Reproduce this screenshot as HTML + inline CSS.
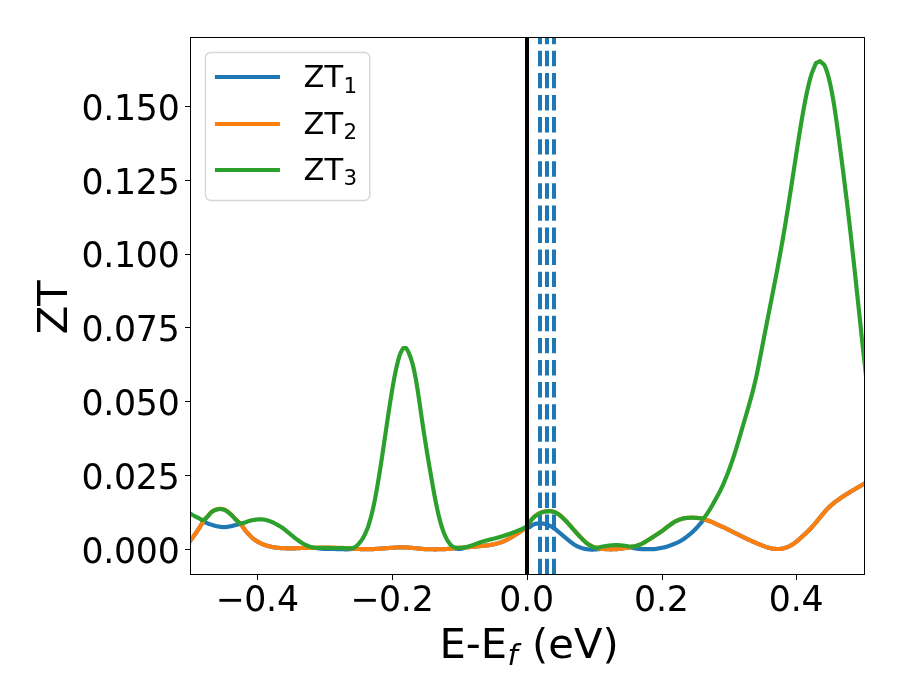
<!DOCTYPE html>
<html lang="en">
<head>
<meta charset="utf-8">
<title>ZT vs E-Ef</title>
<style>
html,body{margin:0;padding:0;background:#fff;}
body{width:900px;height:700px;overflow:hidden;}
svg{display:block;will-change:transform;}
text{font-family:"DejaVu Sans","Liberation Sans",sans-serif;fill:#000;font-kerning:none;}
.tk{font-size:34.72px;letter-spacing:-0.25px;}
.lab{font-size:41.67px;}
.leg{font-size:30.56px;}
.sub{font-size:21.39px;}
.fsub{font-size:29.17px;font-style:oblique;}
.cv{fill:none;stroke-width:4.1667;stroke-linejoin:round;stroke-linecap:butt;}
</style>
</head>
<body>
<svg width="900" height="700" viewBox="0 0 900 700">
<rect x="0" y="0" width="900" height="700" fill="#ffffff"/>
<defs><clipPath id="axclip"><rect x="190" y="37.3" width="673.9" height="536.9"/></clipPath></defs>
<g clip-path="url(#axclip)">
<line x1="540" y1="574.2" x2="540" y2="37.3" stroke="#1f77b4" stroke-width="4" stroke-dasharray="15.417 6.667"/>
<line x1="547" y1="574.2" x2="547" y2="37.3" stroke="#1f77b4" stroke-width="4" stroke-dasharray="15.417 6.667"/>
<line x1="554" y1="574.2" x2="554" y2="37.3" stroke="#1f77b4" stroke-width="4" stroke-dasharray="15.417 6.667"/>
<path class="cv" stroke="#1f77b4" d="M186.00 546.60L186.51 545.90L187.01 545.21L187.52 544.51L188.02 543.82L188.53 543.12L189.04 542.42L189.54 541.72L190.05 541.03L190.55 540.33L191.06 539.63L191.56 538.94L192.07 538.26L192.58 537.58L193.08 536.89L193.59 536.21L194.09 535.52L194.60 534.83L195.11 534.13L195.61 533.41L196.12 532.69L196.62 531.96L197.13 531.21L197.64 530.44L198.14 529.67L198.65 528.89L199.15 528.09L199.66 527.29L200.16 526.48L200.67 525.65L201.18 524.82L201.68 523.98L202.19 523.13L202.69 522.27L203.20 521.40L203.70 521.64L204.19 521.88L204.69 522.11L205.19 522.34L205.69 522.56L206.18 522.77L206.68 522.97L207.18 523.18L207.68 523.37L208.17 523.57L208.67 523.76L209.17 523.94L209.67 524.12L210.16 524.29L210.66 524.45L211.16 524.62L211.66 524.78L212.15 524.94L212.65 525.11L213.15 525.26L213.64 525.42L214.14 525.57L214.64 525.71L215.14 525.85L215.63 525.97L216.13 526.09L216.63 526.19L217.13 526.29L217.62 526.37L218.12 526.46L218.62 526.54L219.12 526.63L219.61 526.71L220.11 526.78L220.61 526.85L221.11 526.92L221.60 526.98L222.10 527.02L222.60 527.06L223.09 527.09L223.59 527.10L224.09 527.10L224.59 527.08L225.08 527.06L225.58 527.02L226.08 526.97L226.58 526.91L227.07 526.85L227.57 526.77L228.07 526.70L228.57 526.62L229.06 526.54L229.56 526.45L230.06 526.37L230.56 526.29L231.05 526.20L231.55 526.10L232.05 525.99L232.54 525.87L233.04 525.74L233.54 525.60L234.04 525.47L234.53 525.33L235.03 525.19L235.53 525.06L236.03 524.93L236.52 524.81L237.02 524.70L237.52 524.59L238.02 524.48L238.51 524.38L239.01 524.28L239.51 524.18L240.01 524.09L240.50 523.99L241.00 523.90L241.50 524.74L242.00 525.56L242.50 526.37L243.00 527.15L243.50 527.91L244.00 528.64L244.50 529.34L245.00 530.00L245.50 530.64L246.00 531.25L246.50 531.85L247.00 532.42L247.50 532.98L248.00 533.52L248.51 534.05L249.01 534.58L249.51 535.09L250.01 535.61L250.51 536.12L251.01 536.64L251.51 537.14L252.01 537.63L252.51 538.09L253.01 538.52L253.51 538.91L254.01 539.28L254.51 539.64L255.01 539.99L255.51 540.33L256.01 540.67L256.51 540.99L257.01 541.30L257.51 541.61L258.01 541.90L258.51 542.18L259.01 542.46L259.51 542.72L260.01 542.97L260.51 543.22L261.01 543.45L261.51 543.67L262.01 543.88L262.52 544.09L263.02 544.29L263.52 544.49L264.02 544.68L264.52 544.87L265.02 545.05L265.52 545.22L266.02 545.39L266.52 545.55L267.02 545.71L267.52 545.86L268.02 546.00L268.52 546.14L269.02 546.27L269.52 546.39L270.02 546.50L270.52 546.62L271.02 546.73L271.52 546.83L272.02 546.94L272.52 547.04L273.02 547.14L273.52 547.24L274.02 547.33L274.52 547.42L275.02 547.50L275.52 547.58L276.02 547.65L276.52 547.72L277.03 547.78L277.53 547.83L278.03 547.88L278.53 547.92L279.03 547.95L279.53 547.99L280.03 548.02L280.53 548.06L281.03 548.09L281.53 548.12L282.03 548.15L282.53 548.18L283.03 548.20L283.53 548.23L284.03 548.25L284.53 548.26L285.03 548.28L285.53 548.29L286.03 548.30L286.53 548.30L287.03 548.30L287.53 548.30L288.03 548.30L288.53 548.30L289.03 548.30L289.53 548.30L290.03 548.30L290.53 548.30L291.03 548.30L291.54 548.30L292.04 548.30L292.54 548.30L293.04 548.30L293.54 548.30L294.04 548.30L294.54 548.30L295.04 548.30L295.54 548.30L296.04 548.28L296.54 548.27L297.04 548.25L297.54 548.22L298.04 548.19L298.54 548.16L299.04 548.13L299.54 548.09L300.04 548.06L300.54 548.03L301.04 548.00L301.54 547.97L302.04 547.94L302.54 547.92L303.04 547.91L303.54 547.90L304.04 547.89L304.54 547.88L305.04 547.87L305.55 547.87L306.05 547.86L306.55 547.86L307.05 547.85L307.55 547.85L308.05 547.84L308.55 547.84L309.05 547.83L309.55 547.83L310.05 547.82L310.55 547.82L311.05 547.81L311.55 547.81L312.05 547.81L312.55 547.81L313.05 547.82L313.55 547.83L314.05 547.85L314.55 547.88L315.05 547.91L315.55 547.96L316.05 548.02L316.55 548.08L317.05 548.15L317.55 548.23L318.05 548.30L318.55 548.37L319.05 548.45L319.55 548.52L320.06 548.58L320.56 548.65L321.06 548.70L321.56 548.75L322.06 548.79L322.56 548.82L323.06 548.85L323.56 548.87L324.06 548.89L324.56 548.91L325.06 548.92L325.56 548.93L326.06 548.93L326.56 548.94L327.06 548.94L327.56 548.94L328.06 548.95L328.56 548.95L329.06 548.95L329.56 548.96L330.06 548.96L330.56 548.97L331.06 548.97L331.56 548.98L332.06 548.98L332.56 548.99L333.06 549.00L333.56 549.01L334.07 549.02L334.57 549.03L335.07 549.04L335.57 549.05L336.07 549.06L336.57 549.07L337.07 549.08L337.57 549.09L338.07 549.10L338.57 549.11L339.07 549.13L339.57 549.14L340.07 549.15L340.57 549.16L341.07 549.18L341.57 549.19L342.07 549.21L342.57 549.23L343.07 549.25L343.57 549.27L344.07 549.28L344.57 549.30L345.07 549.31L345.57 549.32L346.07 549.33L346.57 549.33L347.07 549.33L347.57 549.32L348.07 549.30L348.58 549.28L349.08 549.25L349.58 549.21L350.08 549.17L350.58 549.13L351.08 549.07L351.58 549.03L352.08 548.98L352.58 548.94L353.08 548.91L353.58 548.89L354.08 548.88L354.58 548.87L355.08 548.88L355.58 548.89L356.08 548.91L356.58 548.93L357.08 548.96L357.58 548.98L358.08 549.00L358.58 549.01L359.08 549.02L359.58 549.04L360.08 549.05L360.58 549.07L361.08 549.08L361.58 549.09L362.08 549.11L362.58 549.12L363.09 549.13L363.59 549.14L364.09 549.15L364.59 549.16L365.09 549.17L365.59 549.17L366.09 549.18L366.59 549.19L367.09 549.19L367.59 549.19L368.09 549.20L368.59 549.20L369.09 549.20L369.59 549.20L370.09 549.19L370.59 549.18L371.09 549.17L371.59 549.15L372.09 549.14L372.59 549.11L373.09 549.09L373.59 549.06L374.09 549.03L374.59 549.00L375.09 548.97L375.59 548.93L376.09 548.90L376.59 548.86L377.10 548.82L377.60 548.79L378.10 548.75L378.60 548.71L379.10 548.67L379.60 548.64L380.10 548.60L380.60 548.57L381.10 548.54L381.60 548.51L382.10 548.48L382.60 548.45L383.10 548.42L383.60 548.39L384.10 548.36L384.60 548.33L385.10 548.29L385.60 548.26L386.10 548.22L386.60 548.19L387.10 548.15L387.60 548.11L388.10 548.07L388.60 548.03L389.10 548.00L389.60 547.96L390.10 547.92L390.60 547.88L391.10 547.84L391.61 547.81L392.11 547.77L392.61 547.74L393.11 547.71L393.61 547.68L394.11 547.65L394.61 547.62L395.11 547.59L395.61 547.56L396.11 547.52L396.61 547.49L397.11 547.46L397.61 547.43L398.11 547.41L398.61 547.38L399.11 547.36L399.61 547.34L400.11 547.32L400.61 547.31L401.11 547.30L401.61 547.30L402.11 547.30L402.61 547.31L403.11 547.32L403.61 547.33L404.11 547.35L404.61 547.37L405.11 547.39L405.62 547.42L406.12 547.45L406.62 547.48L407.12 547.51L407.62 547.54L408.12 547.58L408.62 547.61L409.12 547.64L409.62 547.68L410.12 547.71L410.62 547.74L411.12 547.78L411.62 547.82L412.12 547.87L412.62 547.92L413.12 547.97L413.62 548.02L414.12 548.07L414.62 548.12L415.12 548.18L415.62 548.23L416.12 548.28L416.62 548.34L417.12 548.39L417.62 548.44L418.12 548.48L418.62 548.53L419.12 548.58L419.62 548.63L420.13 548.68L420.63 548.73L421.13 548.78L421.63 548.83L422.13 548.88L422.63 548.93L423.13 548.98L423.63 549.03L424.13 549.07L424.63 549.10L425.13 549.14L425.63 549.16L426.13 549.18L426.63 549.20L427.13 549.21L427.63 549.22L428.13 549.23L428.63 549.24L429.13 549.25L429.63 549.25L430.13 549.26L430.63 549.27L431.13 549.28L431.63 549.28L432.13 549.29L432.63 549.29L433.13 549.29L433.63 549.30L434.13 549.30L434.64 549.30L435.14 549.30L435.64 549.30L436.14 549.30L436.64 549.30L437.14 549.29L437.64 549.29L438.14 549.28L438.64 549.28L439.14 549.27L439.64 549.27L440.14 549.26L440.64 549.25L441.14 549.24L441.64 549.23L442.14 549.22L442.64 549.21L443.14 549.20L443.64 549.19L444.14 549.17L444.64 549.15L445.14 549.12L445.64 549.08L446.14 549.04L446.64 549.00L447.14 548.96L447.64 548.91L448.14 548.86L448.65 548.81L449.15 548.76L449.65 548.71L450.15 548.66L450.65 548.62L451.15 548.58L451.65 548.55L452.15 548.52L452.65 548.50L453.15 548.49L453.65 548.49L454.15 548.50L454.65 548.53L455.15 548.57L455.65 548.62L456.15 548.69L456.65 548.76L457.15 548.83L457.65 548.90L458.15 548.96L458.65 549.00L459.15 549.03L459.65 549.02L460.15 548.99L460.65 548.92L461.15 548.83L461.65 548.71L462.15 548.57L462.65 548.42L463.16 548.27L463.66 548.11L464.16 547.96L464.66 547.82L465.16 547.69L465.66 547.58L466.16 547.48L466.66 547.40L467.16 547.32L467.66 547.26L468.16 547.20L468.66 547.15L469.16 547.11L469.66 547.07L470.16 547.03L470.66 546.99L471.16 546.95L471.66 546.90L472.16 546.86L472.66 546.82L473.16 546.77L473.66 546.73L474.16 546.68L474.66 546.63L475.16 546.58L475.66 546.53L476.16 546.48L476.66 546.43L477.17 546.38L477.67 546.33L478.17 546.28L478.67 546.23L479.17 546.18L479.67 546.13L480.17 546.08L480.67 546.04L481.17 545.99L481.67 545.95L482.17 545.91L482.67 545.86L483.17 545.82L483.67 545.78L484.17 545.73L484.67 545.69L485.17 545.64L485.67 545.60L486.17 545.55L486.67 545.49L487.17 545.44L487.67 545.38L488.17 545.32L488.67 545.25L489.17 545.18L489.67 545.10L490.17 545.02L490.67 544.93L491.17 544.84L491.68 544.75L492.18 544.65L492.68 544.55L493.18 544.44L493.68 544.33L494.18 544.22L494.68 544.10L495.18 543.98L495.68 543.86L496.18 543.73L496.68 543.61L497.18 543.47L497.68 543.34L498.18 543.19L498.68 543.04L499.18 542.89L499.68 542.73L500.18 542.56L500.68 542.39L501.18 542.21L501.68 542.03L502.18 541.84L502.68 541.65L503.18 541.45L503.68 541.25L504.18 541.04L504.68 540.83L505.18 540.62L505.68 540.39L506.19 540.16L506.69 539.91L507.19 539.65L507.69 539.39L508.19 539.12L508.69 538.84L509.19 538.55L509.69 538.26L510.19 537.97L510.69 537.67L511.19 537.37L511.69 537.07L512.19 536.77L512.69 536.46L513.19 536.17L513.69 535.87L514.19 535.57L514.69 535.26L515.19 534.96L515.69 534.65L516.19 534.34L516.69 534.03L517.19 533.71L517.69 533.39L518.19 533.07L518.69 532.74L519.19 532.41L519.69 532.08L520.20 531.74L520.70 531.40L521.20 531.05L521.70 530.70L522.20 530.35L522.70 529.99L523.20 529.62L523.70 529.25L524.00 528.90L524.50 528.83L525.00 528.74L525.50 528.62L526.00 528.49L526.50 528.34L527.00 528.17L527.50 527.99L528.00 527.79L528.50 527.59L529.00 527.38L529.50 527.16L530.00 526.86L530.50 526.51L531.00 526.12L531.50 525.73L532.00 525.35L532.50 525.01L533.00 524.73L533.50 524.52L534.00 524.34L534.50 524.15L535.00 523.98L535.50 523.82L536.00 523.69L536.50 523.59L537.00 523.52L537.50 523.50L538.00 523.50L538.50 523.50L539.00 523.50L539.50 523.50L540.00 523.50L540.50 523.50L541.00 523.50L541.50 523.50L542.00 523.51L542.50 523.54L543.00 523.60L543.50 523.68L544.00 523.78L544.50 523.89L545.00 524.01L545.50 524.13L546.00 524.25L546.50 524.39L547.00 524.55L547.50 524.73L548.00 524.92L548.50 525.13L549.00 525.34L549.50 525.57L550.00 525.80L550.50 526.04L551.00 526.30L551.50 526.58L552.00 526.87L552.50 527.18L553.00 527.49L553.50 527.82L554.00 528.16L554.50 528.51L555.00 528.89L555.50 529.30L556.00 529.71L556.50 530.15L557.00 530.58L557.50 531.02L558.00 531.45L558.50 531.87L559.00 532.28L559.50 532.70L560.00 533.11L560.50 533.53L561.00 533.95L561.50 534.36L562.00 534.78L562.50 535.20L563.00 535.62L563.50 536.04L564.00 536.47L564.50 536.89L565.00 537.32L565.50 537.74L566.00 538.16L566.50 538.58L567.00 539.00L567.50 539.42L568.00 539.84L568.50 540.26L569.00 540.67L569.50 541.08L570.00 541.48L570.50 541.87L571.00 542.25L571.50 542.62L572.00 542.99L572.50 543.35L573.00 543.71L573.50 544.05L574.00 544.38L574.50 544.70L575.00 545.00L575.50 545.29L576.00 545.56L576.50 545.83L577.00 546.09L577.50 546.34L578.00 546.58L578.50 546.80L579.00 547.02L579.50 547.22L580.00 547.42L580.50 547.61L581.00 547.79L581.50 547.97L582.00 548.13L582.50 548.28L583.00 548.42L583.50 548.55L584.00 548.67L584.50 548.78L585.00 548.89L585.50 548.99L586.00 549.09L586.50 549.17L587.00 549.24L587.50 549.30L588.00 549.35L588.50 549.40L589.00 549.45L589.50 549.50L590.00 549.53L590.50 549.57L591.00 549.59L591.50 549.60L592.00 549.60L592.50 549.59L593.00 549.57L593.50 549.55L594.00 549.52L594.50 549.49L595.00 549.45L595.50 549.42L596.00 549.39L596.50 549.35L597.00 549.31L597.50 549.27L598.00 549.22L598.50 549.17L599.00 549.11L599.50 549.06L600.00 549.00L600.02 548.64L600.52 548.71L601.02 548.76L601.53 548.82L602.03 548.86L602.53 548.90L603.03 548.94L603.54 548.97L604.04 549.01L604.54 549.04L605.05 549.08L605.55 549.11L606.05 549.14L606.56 549.17L607.06 549.20L607.56 549.22L608.06 549.24L608.57 549.26L609.07 549.28L609.57 549.29L610.08 549.30L610.58 549.30L611.08 549.30L611.58 549.30L612.09 549.29L612.59 549.28L613.09 549.27L613.60 549.25L614.10 549.23L614.60 549.21L615.10 549.19L615.61 549.17L616.11 549.14L616.61 549.12L617.12 549.09L617.62 549.06L618.12 549.02L618.62 548.96L619.13 548.90L619.63 548.84L620.13 548.77L620.64 548.69L621.14 548.62L621.64 548.54L622.14 548.47L622.65 548.39L623.15 548.32L623.65 548.25L624.16 548.18L624.66 548.12L625.16 548.05L625.67 547.98L626.17 547.91L626.67 547.84L627.17 547.77L627.68 547.69L628.18 547.62L628.68 547.55L629.19 547.48L629.69 547.40L630.19 547.33L630.69 547.25L631.20 547.18L631.70 547.60L632.20 547.73L632.70 547.86L633.20 547.99L633.70 548.11L634.20 548.22L634.70 548.32L635.20 548.41L635.71 548.49L636.21 548.55L636.71 548.61L637.21 548.68L637.71 548.74L638.21 548.80L638.71 548.85L639.21 548.91L639.71 548.96L640.21 549.00L640.71 549.05L641.21 549.08L641.71 549.12L642.21 549.15L642.72 549.17L643.22 549.19L643.72 549.20L644.22 549.20L644.72 549.20L645.22 549.20L645.72 549.20L646.22 549.20L646.72 549.20L647.22 549.20L647.72 549.20L648.22 549.20L648.72 549.20L649.22 549.20L649.73 549.20L650.23 549.20L650.73 549.20L651.23 549.20L651.73 549.20L652.23 549.20L652.73 549.20L653.23 549.18L653.73 549.15L654.23 549.11L654.73 549.06L655.23 549.00L655.73 548.92L656.23 548.84L656.73 548.76L657.24 548.67L657.74 548.57L658.24 548.48L658.74 548.38L659.24 548.28L659.74 548.19L660.24 548.10L660.74 548.01L661.24 547.93L661.74 547.84L662.24 547.76L662.74 547.67L663.24 547.57L663.74 547.48L664.25 547.37L664.75 547.26L665.25 547.14L665.75 547.01L666.25 546.87L666.75 546.72L667.25 546.56L667.75 546.39L668.25 546.22L668.75 546.04L669.25 545.86L669.75 545.67L670.25 545.48L670.75 545.29L671.26 545.09L671.76 544.89L672.26 544.70L672.76 544.50L673.26 544.30L673.76 544.10L674.26 543.89L674.76 543.69L675.26 543.48L675.76 543.26L676.26 543.04L676.76 542.82L677.26 542.59L677.76 542.36L678.27 542.12L678.77 541.87L679.27 541.62L679.77 541.36L680.27 541.09L680.77 540.82L681.27 540.53L681.77 540.23L682.27 539.92L682.77 539.60L683.27 539.27L683.77 538.93L684.27 538.58L684.77 538.22L685.27 537.85L685.78 537.48L686.28 537.10L686.78 536.71L687.28 536.32L687.78 535.93L688.28 535.53L688.78 535.14L689.28 534.74L689.78 534.33L690.28 533.92L690.78 533.49L691.28 533.06L691.78 532.62L692.28 532.18L692.79 531.72L693.29 531.26L693.79 530.78L694.29 530.30L694.79 529.81L695.29 529.31L695.79 528.79L696.29 528.25L696.79 527.70L697.29 527.14L697.79 526.57L698.29 525.99L698.79 525.41L699.29 524.83L699.80 524.24L700.30 523.65L700.80 523.06L701.30 522.46L701.80 521.85L702.30 521.24L702.80 520.62L703.30 520.00L703.80 519.32L704.30 519.45L704.80 519.59L705.30 519.72L705.80 519.87L706.30 520.02L706.80 520.17L707.30 520.33L707.81 520.49L708.31 520.66L708.81 520.83L709.31 521.00L709.81 521.18L710.31 521.36L710.81 521.56L711.31 521.76L711.81 521.97L712.31 522.19L712.81 522.41L713.31 522.64L713.81 522.88L714.31 523.11L714.81 523.35L715.31 523.59L715.82 523.83L716.32 524.07L716.82 524.31L717.32 524.55L717.82 524.78L718.32 525.01L718.82 525.23L719.32 525.45L719.82 525.67L720.32 525.89L720.82 526.11L721.32 526.33L721.82 526.55L722.32 526.77L722.82 526.99L723.32 527.21L723.82 527.43L724.33 527.66L724.83 527.88L725.33 528.11L725.83 528.34L726.33 528.57L726.83 528.81L727.33 529.05L727.83 529.30L728.33 529.55L728.83 529.81L729.33 530.06L729.83 530.32L730.33 530.57L730.83 530.82L731.33 531.07L731.83 531.33L732.34 531.58L732.84 531.83L733.34 532.09L733.84 532.34L734.34 532.60L734.84 532.85L735.34 533.11L735.84 533.36L736.34 533.61L736.84 533.87L737.34 534.12L737.84 534.37L738.34 534.62L738.84 534.87L739.34 535.12L739.84 535.37L740.34 535.63L740.85 535.88L741.35 536.13L741.85 536.38L742.35 536.63L742.85 536.88L743.35 537.13L743.85 537.37L744.35 537.62L744.85 537.86L745.35 538.11L745.85 538.35L746.35 538.59L746.85 538.82L747.35 539.06L747.85 539.29L748.35 539.52L748.86 539.76L749.36 539.99L749.86 540.21L750.36 540.44L750.86 540.67L751.36 540.89L751.86 541.12L752.36 541.34L752.86 541.56L753.36 541.78L753.86 542.00L754.36 542.22L754.86 542.44L755.36 542.66L755.86 542.87L756.36 543.09L756.87 543.31L757.37 543.52L757.87 543.73L758.37 543.94L758.87 544.15L759.37 544.36L759.87 544.57L760.37 544.77L760.87 544.97L761.37 545.17L761.87 545.37L762.37 545.57L762.87 545.77L763.37 545.97L763.87 546.17L764.37 546.38L764.87 546.57L765.38 546.77L765.88 546.95L766.38 547.13L766.88 547.30L767.38 547.45L767.88 547.59L768.38 547.72L768.88 547.84L769.38 547.96L769.88 548.08L770.38 548.19L770.88 548.30L771.38 548.41L771.88 548.51L772.38 548.60L772.88 548.68L773.39 548.75L773.89 548.81L774.39 548.86L774.89 548.89L775.39 548.92L775.89 548.94L776.39 548.96L776.89 548.98L777.39 548.99L777.89 549.00L778.39 549.00L778.89 548.99L779.39 548.96L779.89 548.92L780.39 548.86L780.89 548.80L781.39 548.74L781.90 548.67L782.40 548.59L782.90 548.49L783.40 548.38L783.90 548.25L784.40 548.11L784.90 547.96L785.40 547.79L785.90 547.62L786.40 547.44L786.90 547.25L787.40 547.06L787.90 546.86L788.40 546.66L788.90 546.44L789.40 546.21L789.91 545.95L790.41 545.68L790.91 545.40L791.41 545.10L791.91 544.79L792.41 544.47L792.91 544.14L793.41 543.80L793.91 543.46L794.41 543.11L794.91 542.76L795.41 542.40L795.91 542.03L796.41 541.64L796.91 541.23L797.41 540.81L797.91 540.38L798.42 539.95L798.92 539.50L799.42 539.05L799.92 538.60L800.42 538.15L800.92 537.70L801.42 537.25L801.92 536.81L802.42 536.36L802.92 535.92L803.42 535.47L803.92 535.02L804.42 534.57L804.92 534.11L805.42 533.65L805.92 533.19L806.43 532.72L806.93 532.24L807.43 531.76L807.93 531.27L808.43 530.77L808.93 530.27L809.43 529.75L809.93 529.23L810.43 528.70L810.93 528.16L811.43 527.62L811.93 527.07L812.43 526.51L812.93 525.95L813.43 525.39L813.93 524.82L814.43 524.25L814.94 523.67L815.44 523.09L815.94 522.50L816.44 521.89L816.94 521.28L817.44 520.66L817.94 520.04L818.44 519.41L818.94 518.79L819.44 518.16L819.94 517.55L820.44 516.93L820.94 516.33L821.44 515.73L821.94 515.13L822.44 514.53L822.95 513.93L823.45 513.32L823.95 512.72L824.45 512.12L824.95 511.53L825.45 510.95L825.95 510.38L826.45 509.82L826.95 509.28L827.45 508.75L827.95 508.25L828.45 507.76L828.95 507.28L829.45 506.81L829.95 506.36L830.45 505.91L830.96 505.47L831.46 505.04L831.96 504.62L832.46 504.21L832.96 503.80L833.46 503.39L833.96 502.99L834.46 502.59L834.96 502.20L835.46 501.81L835.96 501.42L836.46 501.04L836.96 500.67L837.46 500.30L837.96 499.94L838.46 499.58L838.96 499.22L839.47 498.87L839.97 498.52L840.47 498.17L840.97 497.83L841.47 497.49L841.97 497.15L842.47 496.81L842.97 496.48L843.47 496.16L843.97 495.83L844.47 495.51L844.97 495.19L845.47 494.88L845.97 494.56L846.47 494.25L846.97 493.94L847.48 493.63L847.98 493.32L848.48 493.01L848.98 492.70L849.48 492.40L849.98 492.10L850.48 491.80L850.98 491.50L851.48 491.20L851.98 490.91L852.48 490.61L852.98 490.32L853.48 490.02L853.98 489.72L854.48 489.43L854.98 489.13L855.48 488.83L855.99 488.53L856.49 488.23L856.99 487.93L857.49 487.63L857.99 487.33L858.49 487.04L858.99 486.74L859.49 486.45L859.99 486.15L860.49 485.86L860.99 485.58L861.49 485.29L861.99 485.01L862.49 484.74L862.99 484.47L863.49 484.20L864.00 483.93L864.50 483.65L865.00 483.36L865.50 483.07L866.00 482.78L866.50 482.49L867.00 482.20L867.50 481.90L868.00 481.60"/>
<path class="cv" stroke="#ff7f0e" d="M186.00 546.60L186.51 545.90L187.01 545.21L187.52 544.51L188.02 543.82L188.53 543.12L189.04 542.42L189.54 541.72L190.05 541.03L190.55 540.33L191.06 539.63L191.56 538.94L192.07 538.26L192.58 537.58L193.08 536.89L193.59 536.21L194.09 535.52L194.60 534.83L195.11 534.13L195.61 533.41L196.12 532.69L196.62 531.96L197.13 531.21L197.64 530.44L198.14 529.67L198.65 528.89L199.15 528.09L199.66 527.29L200.16 526.48L200.67 525.65L201.18 524.82L201.68 523.98L202.19 523.13L202.69 522.27L203.20 521.40L203.63 519.65L204.12 519.65L204.60 519.65L205.10 519.10L205.59 518.55L206.09 518.00L206.59 517.45L207.09 516.90L207.58 516.34L208.08 515.78L208.58 515.21L209.07 514.61L209.57 514.00L210.07 513.40L210.57 512.85L211.06 512.35L211.56 511.94L212.06 511.56L212.55 511.20L213.05 510.87L213.55 510.57L214.05 510.30L214.54 510.07L215.04 509.88L215.54 509.70L216.03 509.54L216.53 509.40L217.03 509.27L217.53 509.16L218.02 509.07L218.52 508.97L219.02 508.89L219.51 508.82L220.01 508.77L220.51 508.75L221.01 508.77L221.50 508.84L222.00 508.93L222.50 509.05L222.99 509.18L223.49 509.32L223.99 509.47L224.49 509.67L224.98 509.90L225.48 510.16L225.98 510.44L226.47 510.73L226.97 511.05L227.47 511.39L227.97 511.77L228.46 512.16L228.96 512.58L229.46 513.01L229.95 513.44L230.45 513.89L230.95 514.34L231.45 514.82L231.94 515.32L232.44 515.83L232.94 516.35L233.43 516.88L233.93 517.40L234.43 517.93L234.93 518.46L235.42 518.97L235.92 519.48L236.42 519.99L236.91 520.50L237.41 521.01L237.91 521.52L238.41 522.03L238.90 522.54L239.40 523.05L239.90 523.05L240.40 523.05L240.90 523.05L241.00 523.90L241.50 524.74L242.00 525.56L242.50 526.37L243.00 527.15L243.50 527.91L244.00 528.64L244.50 529.34L245.00 530.00L245.50 530.64L246.00 531.25L246.50 531.85L247.00 532.42L247.50 532.98L248.00 533.52L248.51 534.05L249.01 534.58L249.51 535.09L250.01 535.61L250.51 536.12L251.01 536.64L251.51 537.14L252.01 537.63L252.51 538.09L253.01 538.52L253.51 538.91L254.01 539.28L254.51 539.64L255.01 539.99L255.51 540.33L256.01 540.67L256.51 540.99L257.01 541.30L257.51 541.61L258.01 541.90L258.51 542.18L259.01 542.46L259.51 542.72L260.01 542.97L260.51 543.22L261.01 543.45L261.51 543.67L262.01 543.88L262.52 544.09L263.02 544.29L263.52 544.49L264.02 544.68L264.52 544.87L265.02 545.05L265.52 545.22L266.02 545.39L266.52 545.55L267.02 545.71L267.52 545.86L268.02 546.00L268.52 546.14L269.02 546.27L269.52 546.39L270.02 546.50L270.52 546.62L271.02 546.73L271.52 546.83L272.02 546.94L272.52 547.04L273.02 547.14L273.52 547.24L274.02 547.33L274.52 547.42L275.02 547.50L275.52 547.58L276.02 547.65L276.52 547.72L277.03 547.78L277.53 547.83L278.03 547.88L278.53 547.92L279.03 547.95L279.53 547.99L280.03 548.02L280.53 548.06L281.03 548.09L281.53 548.12L282.03 548.15L282.53 548.18L283.03 548.20L283.53 548.23L284.03 548.25L284.53 548.26L285.03 548.28L285.53 548.29L286.03 548.30L286.53 548.30L287.03 548.30L287.53 548.30L288.03 548.30L288.53 548.30L289.03 548.30L289.53 548.30L290.03 548.30L290.53 548.30L291.03 548.30L291.54 548.30L292.04 548.30L292.54 548.30L293.04 548.30L293.54 548.30L294.04 548.30L294.54 548.30L295.04 548.30L295.54 548.30L296.04 548.28L296.54 548.27L297.04 548.25L297.54 548.22L298.04 548.19L298.54 548.16L299.04 548.13L299.54 548.09L300.04 548.06L300.54 548.03L301.04 548.00L301.54 547.97L302.04 547.94L302.54 547.92L303.04 547.91L303.54 547.90L304.04 547.89L304.54 547.88L305.04 547.87L305.55 547.87L306.05 547.86L306.55 547.86L307.05 547.85L307.55 547.85L308.05 547.84L308.55 547.84L309.05 547.83L309.55 547.83L310.05 547.82L310.55 547.82L311.05 547.81L311.55 547.80L312.05 547.79L312.55 547.78L313.05 547.77L313.55 547.76L314.05 547.74L314.55 547.73L315.05 547.71L315.55 547.69L316.05 547.68L316.55 547.66L317.05 547.65L317.55 547.63L318.05 547.62L318.55 547.61L319.05 547.61L319.55 547.60L320.06 547.60L320.56 547.60L321.06 547.60L321.56 547.60L322.06 547.60L322.56 547.60L323.06 547.60L323.56 547.60L324.06 547.60L324.56 547.60L325.06 547.60L325.56 547.60L326.06 547.60L326.56 547.60L327.06 547.60L327.56 547.60L328.06 547.60L328.56 547.60L329.06 547.60L329.56 547.61L330.06 547.61L330.56 547.62L331.06 547.62L331.56 547.63L332.06 547.63L332.56 547.64L333.06 547.65L333.56 547.66L334.07 547.67L334.57 547.68L335.07 547.69L335.57 547.70L336.07 547.71L336.57 547.72L337.07 547.73L337.57 547.74L338.07 547.75L338.57 547.76L339.07 547.78L339.57 547.79L340.07 547.80L340.57 547.82L341.07 547.83L341.57 547.85L342.07 547.87L342.57 547.89L343.07 547.92L343.57 547.94L344.07 547.97L344.57 548.00L345.07 548.02L345.57 548.06L346.07 548.09L346.57 548.12L347.07 548.15L347.57 548.18L348.07 548.22L348.58 548.25L349.08 548.28L349.58 548.32L350.08 548.35L350.58 548.39L351.08 548.42L351.58 548.46L352.08 548.50L352.58 548.54L353.08 548.59L353.58 548.64L354.08 548.69L354.58 548.74L355.08 548.78L355.58 548.83L356.08 548.87L356.58 548.91L357.08 548.94L357.58 548.97L358.08 548.99L358.58 549.01L359.08 549.02L359.58 549.04L360.08 549.05L360.58 549.07L361.08 549.08L361.58 549.09L362.08 549.11L362.58 549.12L363.09 549.13L363.59 549.14L364.09 549.15L364.59 549.16L365.09 549.17L365.59 549.17L366.09 549.18L366.59 549.19L367.09 549.19L367.59 549.19L368.09 549.20L368.59 549.20L369.09 549.20L369.59 549.20L370.09 549.19L370.59 549.18L371.09 549.17L371.59 549.15L372.09 549.14L372.59 549.11L373.09 549.09L373.59 549.06L374.09 549.03L374.59 549.00L375.09 548.97L375.59 548.93L376.09 548.90L376.59 548.86L377.10 548.82L377.60 548.79L378.10 548.75L378.60 548.71L379.10 548.67L379.60 548.64L380.10 548.60L380.60 548.57L381.10 548.54L381.60 548.51L382.10 548.48L382.60 548.45L383.10 548.42L383.60 548.39L384.10 548.36L384.60 548.33L385.10 548.29L385.60 548.26L386.10 548.22L386.60 548.19L387.10 548.15L387.60 548.11L388.10 548.07L388.60 548.03L389.10 548.00L389.60 547.96L390.10 547.92L390.60 547.88L391.10 547.84L391.61 547.81L392.11 547.77L392.61 547.74L393.11 547.71L393.61 547.68L394.11 547.65L394.61 547.62L395.11 547.59L395.61 547.56L396.11 547.52L396.61 547.49L397.11 547.46L397.61 547.43L398.11 547.41L398.61 547.38L399.11 547.36L399.61 547.34L400.11 547.32L400.61 547.31L401.11 547.30L401.61 547.30L402.11 547.30L402.61 547.31L403.11 547.32L403.61 547.33L404.11 547.35L404.61 547.37L405.11 547.39L405.62 547.42L406.12 547.45L406.62 547.48L407.12 547.51L407.62 547.54L408.12 547.58L408.62 547.61L409.12 547.64L409.62 547.68L410.12 547.71L410.62 547.74L411.12 547.78L411.62 547.82L412.12 547.87L412.62 547.92L413.12 547.97L413.62 548.02L414.12 548.07L414.62 548.12L415.12 548.18L415.62 548.23L416.12 548.28L416.62 548.34L417.12 548.39L417.62 548.44L418.12 548.48L418.62 548.53L419.12 548.58L419.62 548.63L420.13 548.68L420.63 548.73L421.13 548.78L421.63 548.83L422.13 548.88L422.63 548.93L423.13 548.98L423.63 549.03L424.13 549.07L424.63 549.10L425.13 549.14L425.63 549.16L426.13 549.18L426.63 549.20L427.13 549.21L427.63 549.22L428.13 549.23L428.63 549.24L429.13 549.25L429.63 549.25L430.13 549.26L430.63 549.27L431.13 549.28L431.63 549.28L432.13 549.29L432.63 549.29L433.13 549.29L433.63 549.30L434.13 549.30L434.64 549.30L435.14 549.30L435.64 549.30L436.14 549.30L436.64 549.30L437.14 549.29L437.64 549.29L438.14 549.28L438.64 549.28L439.14 549.27L439.64 549.27L440.14 549.26L440.64 549.25L441.14 549.24L441.64 549.23L442.14 549.22L442.64 549.21L443.14 549.20L443.64 549.19L444.14 549.17L444.64 549.15L445.14 549.12L445.64 549.08L446.14 549.04L446.64 549.00L447.14 548.96L447.64 548.91L448.14 548.86L448.65 548.81L449.15 548.75L449.65 548.70L450.15 548.65L450.65 548.60L451.15 548.55L451.65 548.50L452.15 548.46L452.65 548.41L453.15 548.36L453.65 548.31L454.15 548.26L454.65 548.21L455.15 548.16L455.65 548.11L456.15 548.06L456.65 548.01L457.15 547.96L457.65 547.91L458.15 547.86L458.65 547.82L459.15 547.77L459.65 547.73L460.15 547.69L460.65 547.65L461.15 547.61L461.65 547.57L462.15 547.54L462.65 547.50L463.16 547.47L463.66 547.44L464.16 547.41L464.66 547.37L465.16 547.34L465.66 547.31L466.16 547.28L466.66 547.25L467.16 547.22L467.66 547.19L468.16 547.15L468.66 547.12L469.16 547.09L469.66 547.05L470.16 547.02L470.66 546.98L471.16 546.94L471.66 546.90L472.16 546.86L472.66 546.82L473.16 546.77L473.66 546.73L474.16 546.68L474.66 546.63L475.16 546.58L475.66 546.53L476.16 546.48L476.66 546.43L477.17 546.38L477.67 546.33L478.17 546.28L478.67 546.23L479.17 546.18L479.67 546.13L480.17 546.08L480.67 546.04L481.17 545.99L481.67 545.95L482.17 545.91L482.67 545.86L483.17 545.82L483.67 545.78L484.17 545.73L484.67 545.69L485.17 545.64L485.67 545.60L486.17 545.55L486.67 545.49L487.17 545.44L487.67 545.38L488.17 545.32L488.67 545.25L489.17 545.18L489.67 545.10L490.17 545.02L490.67 544.93L491.17 544.84L491.68 544.75L492.18 544.65L492.68 544.55L493.18 544.44L493.68 544.33L494.18 544.22L494.68 544.10L495.18 543.98L495.68 543.86L496.18 543.73L496.68 543.61L497.18 543.47L497.68 543.34L498.18 543.19L498.68 543.04L499.18 542.89L499.68 542.73L500.18 542.56L500.68 542.39L501.18 542.21L501.68 542.03L502.18 541.84L502.68 541.65L503.18 541.45L503.68 541.25L504.18 541.04L504.68 540.83L505.18 540.62L505.68 540.39L506.19 540.16L506.69 539.91L507.19 539.65L507.69 539.39L508.19 539.12L508.69 538.84L509.19 538.55L509.69 538.26L510.19 537.97L510.69 537.67L511.19 537.37L511.69 537.07L512.19 536.77L512.69 536.46L513.19 536.17L513.69 535.87L514.19 535.57L514.69 535.26L515.19 534.96L515.69 534.65L516.19 534.34L516.69 534.03L517.19 533.71L517.69 533.39L518.19 533.07L518.69 532.74L519.19 532.41L519.69 532.08L520.20 531.74L520.70 531.40L521.20 531.05L521.70 530.70L522.20 530.35L522.70 529.99L523.20 529.62L523.70 529.25L524.20 528.86L524.70 528.45L525.20 528.03L525.70 527.58L526.20 527.10L526.70 526.61L527.20 526.10L527.70 525.01L528.20 524.19L528.70 523.39L529.19 522.66L529.69 521.96L530.19 521.29L530.69 520.63L531.19 520.00L531.69 519.39L532.19 518.81L532.68 518.27L533.18 517.76L533.68 517.29L534.18 516.84L534.68 516.41L535.18 516.00L535.68 515.60L536.17 515.23L536.67 514.88L537.17 514.56L537.67 514.25L538.17 513.95L538.67 513.66L539.17 513.38L539.66 513.12L540.16 512.87L540.66 512.65L541.16 512.44L541.66 512.26L542.16 512.10L542.66 511.94L543.15 511.80L543.65 511.66L544.15 511.53L544.65 511.42L545.15 511.33L545.65 511.27L546.15 511.22L546.64 511.17L547.14 511.13L547.64 511.09L548.14 511.06L548.64 511.03L549.14 511.01L549.64 511.00L550.13 511.00L550.63 511.03L551.13 511.09L551.63 511.17L552.13 511.28L552.63 511.40L553.13 511.54L553.62 511.68L554.12 511.83L554.62 511.99L555.12 512.18L555.62 512.40L556.12 512.65L556.62 512.93L557.11 513.22L557.61 513.52L558.11 513.83L558.61 514.15L559.11 514.51L559.61 514.90L560.11 515.31L560.60 515.74L561.10 516.18L561.60 516.63L562.10 517.09L562.60 517.54L563.10 518.00L563.60 518.47L564.09 518.95L564.59 519.44L565.09 519.94L565.59 520.44L566.09 520.96L566.59 521.48L567.09 522.01L567.58 522.56L568.08 523.12L568.58 523.69L569.08 524.26L569.58 524.84L570.08 525.42L570.58 525.99L571.07 526.56L571.57 527.13L572.07 527.71L572.57 528.28L573.07 528.85L573.57 529.43L574.07 530.00L574.56 530.56L575.06 531.12L575.56 531.68L576.06 532.23L576.56 532.78L577.06 533.33L577.56 533.88L578.05 534.42L578.55 534.96L579.05 535.49L579.55 536.02L580.05 536.56L580.55 537.09L581.05 537.62L581.54 538.14L582.04 538.66L582.54 539.16L583.04 539.65L583.54 540.13L584.04 540.59L584.54 541.06L585.03 541.51L585.53 541.96L586.03 542.39L586.53 542.80L587.03 543.20L587.53 543.57L588.03 543.92L588.52 544.26L589.02 544.58L589.52 544.88L590.02 545.16L590.52 545.44L591.02 545.71L591.52 545.97L592.01 546.21L592.51 546.44L593.01 546.64L593.51 546.82L594.01 546.99L594.51 547.15L595.01 547.30L595.50 547.43L596.00 547.56L596.50 547.66L597.00 548.20L597.50 548.28L598.01 548.36L598.51 548.43L599.01 548.51L599.51 548.58L600.02 548.64L600.52 548.71L601.02 548.76L601.53 548.82L602.03 548.86L602.53 548.90L603.03 548.94L603.54 548.97L604.04 549.01L604.54 549.04L605.05 549.08L605.55 549.11L606.05 549.14L606.56 549.17L607.06 549.20L607.56 549.22L608.06 549.24L608.57 549.26L609.07 549.28L609.57 549.29L610.08 549.30L610.58 549.30L611.08 549.30L611.58 549.30L612.09 549.29L612.59 549.28L613.09 549.27L613.60 549.25L614.10 549.23L614.60 549.21L615.10 549.19L615.61 549.17L616.11 549.14L616.61 549.12L617.12 549.09L617.62 549.06L618.12 549.02L618.62 548.96L619.13 548.90L619.63 548.84L620.13 548.77L620.64 548.69L621.14 548.62L621.64 548.54L622.14 548.47L622.65 548.39L623.15 548.32L623.65 548.25L624.16 548.18L624.66 548.12L625.16 548.05L625.67 547.98L626.17 547.91L626.67 547.84L627.17 547.77L627.68 547.69L628.18 547.62L628.68 547.55L629.19 547.48L629.69 547.40L630.19 547.33L630.69 547.25L631.20 547.18L631.70 547.10L631.93 546.60L632.43 546.57L632.93 546.53L633.43 546.46L633.93 546.38L634.43 546.28L634.93 546.16L635.43 546.03L635.93 545.89L636.43 545.74L636.92 545.57L637.42 545.41L637.92 545.23L638.42 545.06L638.92 544.88L639.42 544.70L639.92 544.53L640.42 544.35L640.92 544.15L641.42 543.92L641.92 543.69L642.41 543.43L642.91 543.17L643.41 542.89L643.91 542.60L644.41 542.30L644.91 542.00L645.41 541.69L645.91 541.38L646.41 541.06L646.91 540.75L647.41 540.44L647.90 540.14L648.40 539.84L648.90 539.54L649.40 539.23L649.90 538.92L650.40 538.61L650.90 538.30L651.40 537.98L651.90 537.66L652.40 537.33L652.89 537.01L653.39 536.68L653.89 536.35L654.39 536.02L654.89 535.69L655.39 535.36L655.89 535.03L656.39 534.71L656.89 534.38L657.39 534.05L657.89 533.72L658.38 533.39L658.88 533.07L659.38 532.74L659.88 532.40L660.38 532.07L660.88 531.73L661.38 531.39L661.88 531.04L662.38 530.69L662.88 530.33L663.38 529.95L663.87 529.57L664.37 529.18L664.87 528.79L665.37 528.39L665.87 527.99L666.37 527.60L666.87 527.21L667.37 526.83L667.87 526.46L668.37 526.10L668.86 525.75L669.36 525.39L669.86 525.02L670.36 524.66L670.86 524.29L671.36 523.93L671.86 523.58L672.36 523.22L672.86 522.88L673.36 522.55L673.86 522.23L674.35 521.92L674.85 521.63L675.35 521.35L675.85 521.09L676.35 520.85L676.85 520.64L677.35 520.43L677.85 520.22L678.35 520.02L678.85 519.82L679.35 519.63L679.84 519.44L680.34 519.26L680.84 519.09L681.34 518.92L681.84 518.77L682.34 518.63L682.84 518.50L683.34 518.38L683.84 518.28L684.34 518.19L684.83 518.12L685.33 518.06L685.83 518.00L686.33 517.95L686.83 517.89L687.33 517.84L687.83 517.80L688.33 517.75L688.83 517.71L689.33 517.68L689.83 517.65L690.32 517.63L690.82 517.61L691.32 517.60L691.82 517.60L692.32 517.61L692.82 517.62L693.32 517.63L693.82 517.66L694.32 517.68L694.82 517.71L695.32 517.74L695.81 517.78L696.31 517.81L696.81 517.85L697.31 517.89L697.81 517.92L698.31 517.97L698.81 518.01L699.31 518.06L699.81 518.12L700.31 518.18L700.80 518.24L701.30 518.31L701.80 518.38L702.30 518.45L702.80 518.52L703.30 519.20L703.80 519.32L704.30 519.45L704.80 519.59L705.30 519.72L705.80 519.87L706.30 520.02L706.80 520.17L707.30 520.33L707.81 520.49L708.31 520.66L708.81 520.83L709.31 521.00L709.81 521.18L710.31 521.36L710.81 521.56L711.31 521.76L711.81 521.97L712.31 522.19L712.81 522.41L713.31 522.64L713.81 522.88L714.31 523.11L714.81 523.35L715.31 523.59L715.82 523.83L716.32 524.07L716.82 524.31L717.32 524.55L717.82 524.78L718.32 525.01L718.82 525.23L719.32 525.45L719.82 525.67L720.32 525.89L720.82 526.11L721.32 526.33L721.82 526.55L722.32 526.77L722.82 526.99L723.32 527.21L723.82 527.43L724.33 527.66L724.83 527.88L725.33 528.11L725.83 528.34L726.33 528.57L726.83 528.81L727.33 529.05L727.83 529.30L728.33 529.55L728.83 529.81L729.33 530.06L729.83 530.32L730.33 530.57L730.83 530.82L731.33 531.07L731.83 531.33L732.34 531.58L732.84 531.83L733.34 532.09L733.84 532.34L734.34 532.60L734.84 532.85L735.34 533.11L735.84 533.36L736.34 533.61L736.84 533.87L737.34 534.12L737.84 534.37L738.34 534.62L738.84 534.87L739.34 535.12L739.84 535.37L740.34 535.63L740.85 535.88L741.35 536.13L741.85 536.38L742.35 536.63L742.85 536.88L743.35 537.13L743.85 537.37L744.35 537.62L744.85 537.86L745.35 538.11L745.85 538.35L746.35 538.59L746.85 538.82L747.35 539.06L747.85 539.29L748.35 539.52L748.86 539.76L749.36 539.99L749.86 540.21L750.36 540.44L750.86 540.67L751.36 540.89L751.86 541.12L752.36 541.34L752.86 541.56L753.36 541.78L753.86 542.00L754.36 542.22L754.86 542.44L755.36 542.66L755.86 542.87L756.36 543.09L756.87 543.31L757.37 543.52L757.87 543.73L758.37 543.94L758.87 544.15L759.37 544.36L759.87 544.57L760.37 544.77L760.87 544.97L761.37 545.17L761.87 545.37L762.37 545.57L762.87 545.77L763.37 545.97L763.87 546.17L764.37 546.38L764.87 546.57L765.38 546.77L765.88 546.95L766.38 547.13L766.88 547.30L767.38 547.45L767.88 547.59L768.38 547.72L768.88 547.84L769.38 547.96L769.88 548.08L770.38 548.19L770.88 548.30L771.38 548.41L771.88 548.51L772.38 548.60L772.88 548.68L773.39 548.75L773.89 548.81L774.39 548.86L774.89 548.89L775.39 548.92L775.89 548.94L776.39 548.96L776.89 548.98L777.39 548.99L777.89 549.00L778.39 549.00L778.89 548.99L779.39 548.96L779.89 548.92L780.39 548.86L780.89 548.80L781.39 548.74L781.90 548.67L782.40 548.59L782.90 548.49L783.40 548.38L783.90 548.25L784.40 548.11L784.90 547.96L785.40 547.79L785.90 547.62L786.40 547.44L786.90 547.25L787.40 547.06L787.90 546.86L788.40 546.66L788.90 546.44L789.40 546.21L789.91 545.95L790.41 545.68L790.91 545.40L791.41 545.10L791.91 544.79L792.41 544.47L792.91 544.14L793.41 543.80L793.91 543.46L794.41 543.11L794.91 542.76L795.41 542.40L795.91 542.03L796.41 541.64L796.91 541.23L797.41 540.81L797.91 540.38L798.42 539.95L798.92 539.50L799.42 539.05L799.92 538.60L800.42 538.15L800.92 537.70L801.42 537.25L801.92 536.81L802.42 536.36L802.92 535.92L803.42 535.47L803.92 535.02L804.42 534.57L804.92 534.11L805.42 533.65L805.92 533.19L806.43 532.72L806.93 532.24L807.43 531.76L807.93 531.27L808.43 530.77L808.93 530.27L809.43 529.75L809.93 529.23L810.43 528.70L810.93 528.16L811.43 527.62L811.93 527.07L812.43 526.51L812.93 525.95L813.43 525.39L813.93 524.82L814.43 524.25L814.94 523.67L815.44 523.09L815.94 522.50L816.44 521.89L816.94 521.28L817.44 520.66L817.94 520.04L818.44 519.41L818.94 518.79L819.44 518.16L819.94 517.55L820.44 516.93L820.94 516.33L821.44 515.73L821.94 515.13L822.44 514.53L822.95 513.93L823.45 513.32L823.95 512.72L824.45 512.12L824.95 511.53L825.45 510.95L825.95 510.38L826.45 509.82L826.95 509.28L827.45 508.75L827.95 508.25L828.45 507.76L828.95 507.28L829.45 506.81L829.95 506.36L830.45 505.91L830.96 505.47L831.46 505.04L831.96 504.62L832.46 504.21L832.96 503.80L833.46 503.39L833.96 502.99L834.46 502.59L834.96 502.20L835.46 501.81L835.96 501.42L836.46 501.04L836.96 500.67L837.46 500.30L837.96 499.94L838.46 499.58L838.96 499.22L839.47 498.87L839.97 498.52L840.47 498.17L840.97 497.83L841.47 497.49L841.97 497.15L842.47 496.81L842.97 496.48L843.47 496.16L843.97 495.83L844.47 495.51L844.97 495.19L845.47 494.88L845.97 494.56L846.47 494.25L846.97 493.94L847.48 493.63L847.98 493.32L848.48 493.01L848.98 492.70L849.48 492.40L849.98 492.10L850.48 491.80L850.98 491.50L851.48 491.20L851.98 490.91L852.48 490.61L852.98 490.32L853.48 490.02L853.98 489.72L854.48 489.43L854.98 489.13L855.48 488.83L855.99 488.53L856.49 488.23L856.99 487.93L857.49 487.63L857.99 487.33L858.49 487.04L858.99 486.74L859.49 486.45L859.99 486.15L860.49 485.86L860.99 485.58L861.49 485.29L861.99 485.01L862.49 484.74L862.99 484.47L863.49 484.20L864.00 483.93L864.50 483.65L865.00 483.36L865.50 483.07L866.00 482.78L866.50 482.49L867.00 482.20L867.50 481.90L868.00 481.60"/>
<path class="cv" stroke="#2ca02c" d="M186.00 511.60L186.51 511.86L187.01 512.13L187.52 512.39L188.03 512.65L188.53 512.91L189.04 513.18L189.55 513.44L190.05 513.70L190.56 513.96L191.06 514.22L191.57 514.48L192.08 514.74L192.58 515.00L193.09 515.25L193.60 515.51L194.10 515.76L194.61 516.01L195.12 516.27L195.62 516.52L196.13 516.78L196.64 517.04L197.14 517.31L197.65 517.58L198.15 517.86L198.66 518.14L199.17 518.42L199.67 518.71L200.18 519.00L200.69 519.30L201.19 519.60L201.70 519.90L202.18 519.90L202.67 519.90L203.15 519.90L203.63 519.90L204.12 519.90L204.60 519.90L205.10 519.35L205.59 518.80L206.09 518.25L206.59 517.70L207.09 517.15L207.58 516.59L208.08 516.03L208.58 515.46L209.07 514.86L209.57 514.25L210.07 513.65L210.57 513.10L211.06 512.60L211.56 512.19L212.06 511.81L212.55 511.45L213.05 511.12L213.55 510.82L214.05 510.55L214.54 510.32L215.04 510.13L215.54 509.95L216.03 509.79L216.53 509.65L217.03 509.52L217.53 509.41L218.02 509.32L218.52 509.22L219.02 509.14L219.51 509.07L220.01 509.02L220.51 509.00L221.01 509.02L221.50 509.09L222.00 509.18L222.50 509.30L222.99 509.43L223.49 509.57L223.99 509.72L224.49 509.92L224.98 510.15L225.48 510.41L225.98 510.69L226.47 510.98L226.97 511.30L227.47 511.64L227.97 512.02L228.46 512.41L228.96 512.83L229.46 513.26L229.95 513.69L230.45 514.14L230.95 514.59L231.45 515.07L231.94 515.57L232.44 516.08L232.94 516.60L233.43 517.13L233.93 517.65L234.43 518.18L234.93 518.71L235.42 519.22L235.92 519.73L236.42 520.24L236.91 520.75L237.41 521.26L237.91 521.77L238.41 522.28L238.90 522.79L239.40 523.30L239.90 523.30L240.40 523.30L240.90 523.30L241.40 523.30L241.90 523.30L242.40 523.30L242.90 523.16L243.40 523.01L243.90 522.86L244.40 522.70L244.90 522.54L245.40 522.37L245.90 522.19L246.40 522.00L246.90 521.79L247.40 521.59L247.90 521.38L248.40 521.20L248.90 521.03L249.40 520.89L249.90 520.75L250.40 520.62L250.90 520.49L251.40 520.38L251.90 520.27L252.40 520.17L252.90 520.07L253.40 519.98L253.90 519.90L254.40 519.82L254.90 519.74L255.40 519.67L255.90 519.61L256.40 519.55L256.90 519.51L257.40 519.47L257.90 519.43L258.40 519.40L258.90 519.36L259.40 519.34L259.90 519.32L260.40 519.30L260.90 519.30L261.40 519.31L261.90 519.35L262.40 519.40L262.90 519.46L263.40 519.53L263.90 519.61L264.40 519.70L264.90 519.79L265.40 519.88L265.90 519.98L266.40 520.09L266.90 520.22L267.40 520.36L267.90 520.52L268.40 520.68L268.90 520.86L269.40 521.03L269.90 521.21L270.40 521.40L270.90 521.60L271.40 521.81L271.90 522.02L272.40 522.25L272.90 522.49L273.40 522.73L273.90 522.98L274.40 523.24L274.90 523.49L275.40 523.75L275.90 524.02L276.40 524.28L276.90 524.54L277.40 524.81L277.90 525.09L278.40 525.37L278.90 525.65L279.40 525.94L279.90 526.24L280.40 526.54L280.90 526.85L281.40 527.17L281.90 527.50L282.40 527.83L282.90 528.18L283.40 528.54L283.90 528.92L284.40 529.31L284.90 529.71L285.40 530.12L285.90 530.53L286.40 530.95L286.90 531.37L287.40 531.79L287.90 532.21L288.40 532.62L288.90 533.02L289.40 533.43L289.90 533.83L290.40 534.25L290.90 534.66L291.40 535.08L291.90 535.49L292.40 535.91L292.90 536.32L293.40 536.73L293.90 537.14L294.40 537.54L294.90 537.93L295.40 538.32L295.90 538.71L296.40 539.08L296.90 539.45L297.40 539.81L297.90 540.17L298.40 540.53L298.90 540.89L299.40 541.24L299.90 541.59L300.40 541.93L300.90 542.26L301.40 542.58L301.90 542.89L302.40 543.19L302.90 543.48L303.40 543.75L303.90 544.02L304.40 544.29L304.90 544.55L305.40 544.80L305.90 545.05L306.40 545.29L306.90 545.53L307.40 545.75L307.90 545.96L308.40 546.16L308.90 546.35L309.40 546.52L309.90 546.67L310.40 546.81L310.90 546.96L311.40 547.10L311.90 547.23L312.40 547.35L312.90 547.46L313.40 547.56L313.90 547.63L314.40 547.68L314.90 547.71L315.40 547.73L315.90 547.75L316.40 547.77L316.90 547.78L317.40 547.80L317.90 547.81L318.40 547.82L318.90 547.83L319.40 547.84L319.90 547.85L320.40 547.86L320.90 547.87L321.40 547.88L321.90 547.88L322.40 547.89L322.90 547.90L323.40 547.90L323.90 547.91L324.40 547.91L324.90 547.92L325.40 547.92L325.90 547.93L326.40 547.93L326.90 547.93L327.40 547.94L327.90 547.94L328.40 547.94L328.90 547.94L329.40 547.95L329.90 547.95L330.40 547.95L330.90 547.96L331.40 547.96L331.90 547.96L332.40 547.96L332.90 547.97L333.40 547.97L333.90 547.97L334.40 547.98L334.90 547.98L335.40 547.99L335.90 547.99L336.40 548.00L336.90 548.00L337.40 548.01L337.90 548.02L338.40 548.03L338.90 548.04L339.40 548.05L339.90 548.06L340.40 548.08L340.90 548.09L341.40 548.10L341.90 548.12L342.40 548.13L342.90 548.15L343.40 548.16L343.90 548.18L344.40 548.19L344.90 548.21L345.40 548.22L345.90 548.23L346.40 548.25L346.90 548.26L347.40 548.27L347.90 548.28L348.40 548.28L348.90 548.29L349.40 548.30L349.90 548.30L350.40 548.30L350.90 548.29L351.40 548.24L351.90 548.15L352.40 548.03L352.90 547.89L353.40 547.73L353.90 547.54L354.40 547.35L354.90 547.14L355.40 546.90L355.90 546.55L356.40 546.13L356.90 545.66L357.40 545.14L357.90 544.62L358.40 544.10L358.90 543.56L359.40 542.99L359.90 542.40L360.40 541.77L360.90 541.11L361.40 540.43L361.90 539.71L362.40 538.95L362.90 538.14L363.40 537.27L363.90 536.36L364.40 535.40L364.90 534.36L365.40 533.27L365.90 532.13L366.40 530.96L366.90 529.76L367.40 528.56L367.90 527.28L368.40 525.82L368.90 524.09L369.40 522.43L369.90 520.77L370.40 519.03L370.90 517.21L371.40 515.31L371.90 513.32L372.40 511.25L372.90 509.09L373.40 506.83L373.90 504.49L374.40 502.06L374.90 499.55L375.40 496.96L375.90 494.30L376.40 491.56L376.90 488.76L377.40 485.90L377.90 482.97L378.40 479.99L378.90 476.95L379.40 473.87L379.90 470.74L380.40 467.56L380.90 464.35L381.40 461.10L381.90 457.82L382.40 454.50L382.90 451.17L383.40 447.81L383.90 444.44L384.40 441.05L384.90 437.64L385.40 434.24L385.90 430.82L386.40 427.41L386.90 424.01L387.40 420.62L387.90 417.24L388.40 413.89L388.90 410.57L389.40 407.28L389.90 404.03L390.40 400.82L390.90 397.66L391.40 394.56L391.90 391.52L392.40 388.54L392.90 385.63L393.40 382.80L393.90 380.04L394.40 377.38L394.90 374.80L395.40 372.32L395.90 369.93L396.40 367.65L396.90 365.46L397.40 363.39L397.90 361.42L398.40 359.57L398.90 357.83L399.40 356.20L399.90 354.70L400.40 353.41L400.90 352.30L401.40 351.29L401.90 350.37L402.40 349.52L402.90 348.74L403.40 348.00L403.94 348.00L404.48 348.00L405.02 348.00L405.56 348.00L406.10 348.00L406.60 348.72L407.10 349.55L407.60 350.46L408.10 351.43L408.60 352.49L409.10 353.63L409.60 354.84L410.10 356.12L410.60 357.48L411.10 358.97L411.60 360.56L412.10 362.28L412.61 364.12L413.11 366.10L413.61 368.20L414.11 370.44L414.61 372.82L415.11 375.33L415.61 377.98L416.11 380.77L416.61 383.70L417.11 386.74L417.61 389.90L418.11 393.15L418.61 396.47L419.11 399.86L419.61 403.29L420.11 406.76L420.61 410.25L421.11 413.73L421.61 417.21L422.11 420.66L422.61 424.06L423.11 427.42L423.61 430.74L424.11 434.01L424.62 437.25L425.12 440.44L425.62 443.60L426.12 446.72L426.62 449.81L427.12 452.87L427.62 455.90L428.12 458.90L428.62 461.88L429.12 464.84L429.62 467.77L430.12 470.69L430.62 473.59L431.12 476.47L431.62 479.34L432.12 482.19L432.62 485.02L433.12 487.83L433.62 490.59L434.12 493.33L434.62 496.01L435.12 498.65L435.62 501.23L436.12 503.75L436.63 506.20L437.13 508.58L437.63 510.88L438.13 513.10L438.63 515.23L439.13 517.27L439.63 519.24L440.13 521.12L440.63 522.93L441.13 524.65L441.63 526.33L442.13 527.91L442.63 529.41L443.13 530.83L443.63 532.17L444.13 533.44L444.63 534.63L445.13 535.75L445.63 536.82L446.13 537.86L446.63 538.84L447.13 539.77L447.63 540.64L448.13 541.45L448.64 542.19L449.14 542.91L449.64 543.60L450.14 544.24L450.64 544.82L451.14 545.33L451.64 545.75L452.14 546.11L452.64 546.45L453.14 546.77L453.64 547.04L454.14 547.26L454.64 547.43L455.14 547.52L455.64 547.59L456.14 547.65L456.64 547.71L457.14 547.76L457.64 547.80L458.14 547.84L458.64 547.87L459.14 547.89L459.64 547.90L460.14 547.90L460.65 547.88L461.15 547.85L461.65 547.80L462.15 547.75L462.65 547.68L463.15 547.62L463.65 547.55L464.15 547.48L464.65 547.39L465.15 547.29L465.65 547.19L466.15 547.07L466.65 546.95L467.15 546.83L467.65 546.69L468.15 546.55L468.65 546.41L469.15 546.27L469.65 546.12L470.15 545.97L470.65 545.82L471.15 545.66L471.65 545.51L472.15 545.36L472.65 545.19L473.16 545.02L473.66 544.84L474.16 544.65L474.66 544.45L475.16 544.26L475.66 544.06L476.16 543.85L476.66 543.65L477.16 543.45L477.66 543.25L478.16 543.06L478.66 542.87L479.16 542.69L479.66 542.51L480.16 542.35L480.66 542.19L481.16 542.03L481.66 541.87L482.16 541.72L482.66 541.57L483.16 541.42L483.66 541.28L484.16 541.14L484.66 540.99L485.17 540.85L485.67 540.71L486.17 540.58L486.67 540.44L487.17 540.31L487.67 540.17L488.17 540.04L488.67 539.90L489.17 539.77L489.67 539.64L490.17 539.52L490.67 539.40L491.17 539.27L491.67 539.15L492.17 539.03L492.67 538.91L493.17 538.79L493.67 538.67L494.17 538.55L494.67 538.43L495.17 538.30L495.67 538.17L496.17 538.04L496.67 537.91L497.18 537.77L497.68 537.63L498.18 537.49L498.68 537.34L499.18 537.20L499.68 537.05L500.18 536.90L500.68 536.75L501.18 536.60L501.68 536.45L502.18 536.29L502.68 536.14L503.18 535.98L503.68 535.82L504.18 535.66L504.68 535.50L505.18 535.34L505.68 535.18L506.18 535.01L506.68 534.85L507.18 534.68L507.68 534.51L508.18 534.34L508.68 534.17L509.19 533.99L509.69 533.82L510.19 533.64L510.69 533.46L511.19 533.28L511.69 533.10L512.19 532.91L512.69 532.73L513.19 532.54L513.69 532.35L514.19 532.16L514.69 531.97L515.19 531.78L515.69 531.59L516.19 531.39L516.69 531.20L517.19 531.00L517.69 530.80L518.19 530.60L518.69 530.39L519.19 530.18L519.69 529.97L520.19 529.76L520.69 529.54L521.20 529.32L521.70 529.10L522.20 528.88L522.70 528.65L523.20 528.42L523.70 528.18L524.20 527.93L524.70 527.66L525.20 527.39L525.70 527.09L526.20 526.78L526.70 526.44L527.20 526.10L527.70 525.26L528.20 524.44L528.70 523.64L529.19 522.91L529.69 522.21L530.19 521.54L530.69 520.88L531.19 520.25L531.69 519.64L532.19 519.06L532.68 518.52L533.18 518.01L533.68 517.54L534.18 517.09L534.68 516.66L535.18 516.25L535.68 515.85L536.17 515.48L536.67 515.13L537.17 514.81L537.67 514.50L538.17 514.20L538.67 513.91L539.17 513.63L539.66 513.37L540.16 513.12L540.66 512.90L541.16 512.69L541.66 512.51L542.16 512.35L542.66 512.19L543.15 512.05L543.65 511.91L544.15 511.78L544.65 511.67L545.15 511.58L545.65 511.52L546.15 511.47L546.64 511.42L547.14 511.38L547.64 511.34L548.14 511.31L548.64 511.28L549.14 511.26L549.64 511.25L550.13 511.25L550.63 511.28L551.13 511.34L551.63 511.42L552.13 511.53L552.63 511.65L553.13 511.79L553.62 511.93L554.12 512.08L554.62 512.24L555.12 512.43L555.62 512.65L556.12 512.90L556.62 513.18L557.11 513.47L557.61 513.77L558.11 514.08L558.61 514.40L559.11 514.76L559.61 515.15L560.11 515.56L560.60 515.99L561.10 516.43L561.60 516.88L562.10 517.34L562.60 517.79L563.10 518.25L563.60 518.72L564.09 519.20L564.59 519.69L565.09 520.19L565.59 520.69L566.09 521.21L566.59 521.73L567.09 522.26L567.58 522.81L568.08 523.37L568.58 523.94L569.08 524.51L569.58 525.09L570.08 525.67L570.58 526.24L571.07 526.81L571.57 527.38L572.07 527.96L572.57 528.53L573.07 529.10L573.57 529.68L574.07 530.25L574.56 530.81L575.06 531.37L575.56 531.93L576.06 532.48L576.56 533.03L577.06 533.58L577.56 534.13L578.05 534.67L578.55 535.21L579.05 535.74L579.55 536.27L580.05 536.81L580.55 537.34L581.05 537.87L581.54 538.39L582.04 538.91L582.54 539.41L583.04 539.90L583.54 540.38L584.04 540.84L584.54 541.31L585.03 541.76L585.53 542.21L586.03 542.64L586.53 543.05L587.03 543.45L587.53 543.82L588.03 544.17L588.52 544.51L589.02 544.83L589.52 545.13L590.02 545.41L590.52 545.69L591.02 545.96L591.52 546.22L592.01 546.46L592.51 546.69L593.01 546.89L593.51 547.07L594.01 547.24L594.51 547.40L595.01 547.55L595.50 547.68L596.00 547.81L596.50 547.91L597.00 548.00L597.50 547.86L598.00 547.72L598.50 547.59L599.00 547.46L599.50 547.33L599.99 547.21L600.49 547.09L600.99 546.98L601.49 546.86L601.99 546.76L602.49 546.66L602.99 546.56L603.49 546.47L603.99 546.37L604.49 546.28L604.98 546.20L605.48 546.11L605.98 546.02L606.48 545.94L606.98 545.87L607.48 545.79L607.98 545.72L608.48 545.66L608.98 545.60L609.48 545.55L609.98 545.50L610.47 545.46L610.97 545.42L611.47 545.37L611.97 545.33L612.47 545.29L612.97 545.26L613.47 545.22L613.97 545.19L614.47 545.16L614.97 545.14L615.47 545.12L615.96 545.11L616.46 545.10L616.96 545.10L617.46 545.11L617.96 545.13L618.46 545.15L618.96 545.19L619.46 545.23L619.96 545.27L620.46 545.31L620.95 545.36L621.45 545.41L621.95 545.46L622.45 545.52L622.95 545.57L623.45 545.61L623.95 545.67L624.45 545.74L624.95 545.81L625.45 545.89L625.95 545.98L626.44 546.06L626.94 546.15L627.44 546.24L627.94 546.32L628.44 546.41L628.94 546.48L629.44 546.55L629.94 546.60L630.44 546.65L630.94 546.68L631.44 546.70L631.93 546.70L632.43 546.67L632.93 546.63L633.43 546.56L633.93 546.48L634.43 546.38L634.93 546.26L635.43 546.13L635.93 545.99L636.43 545.84L636.92 545.67L637.42 545.51L637.92 545.33L638.42 545.16L638.92 544.98L639.42 544.80L639.92 544.63L640.42 544.45L640.92 544.25L641.42 544.02L641.92 543.79L642.41 543.53L642.91 543.27L643.41 542.99L643.91 542.70L644.41 542.40L644.91 542.10L645.41 541.79L645.91 541.48L646.41 541.16L646.91 540.85L647.41 540.54L647.90 540.24L648.40 539.94L648.90 539.64L649.40 539.33L649.90 539.02L650.40 538.71L650.90 538.40L651.40 538.08L651.90 537.76L652.40 537.43L652.89 537.11L653.39 536.78L653.89 536.45L654.39 536.12L654.89 535.79L655.39 535.46L655.89 535.13L656.39 534.81L656.89 534.48L657.39 534.15L657.89 533.82L658.38 533.49L658.88 533.17L659.38 532.84L659.88 532.50L660.38 532.17L660.88 531.83L661.38 531.49L661.88 531.14L662.38 530.79L662.88 530.43L663.38 530.05L663.87 529.67L664.37 529.28L664.87 528.89L665.37 528.49L665.87 528.09L666.37 527.70L666.87 527.31L667.37 526.93L667.87 526.56L668.37 526.20L668.86 525.85L669.36 525.49L669.86 525.12L670.36 524.76L670.86 524.39L671.36 524.03L671.86 523.68L672.36 523.32L672.86 522.98L673.36 522.65L673.86 522.33L674.35 522.02L674.85 521.73L675.35 521.45L675.85 521.19L676.35 520.95L676.85 520.74L677.35 520.53L677.85 520.32L678.35 520.12L678.85 519.92L679.35 519.73L679.84 519.54L680.34 519.36L680.84 519.19L681.34 519.02L681.84 518.87L682.34 518.73L682.84 518.60L683.34 518.48L683.84 518.38L684.34 518.29L684.83 518.22L685.33 518.16L685.83 518.10L686.33 518.05L686.83 517.99L687.33 517.94L687.83 517.90L688.33 517.85L688.83 517.81L689.33 517.78L689.83 517.75L690.32 517.73L690.82 517.71L691.32 517.70L691.82 517.70L692.32 517.71L692.82 517.72L693.32 517.73L693.82 517.76L694.32 517.78L694.82 517.81L695.32 517.84L695.81 517.88L696.31 517.91L696.81 517.95L697.31 517.99L697.81 518.02L698.31 518.07L698.81 518.11L699.31 518.16L699.81 518.22L700.31 518.28L700.80 518.34L701.30 518.41L701.80 518.48L702.30 518.55L702.80 518.62L703.30 518.70L703.80 518.11L704.30 517.49L704.80 516.86L705.30 516.21L705.80 515.54L706.31 514.85L706.81 514.15L707.31 513.43L707.81 512.68L708.31 511.90L708.81 511.11L709.31 510.31L709.81 509.49L710.31 508.66L710.81 507.81L711.31 506.95L711.82 506.08L712.32 505.19L712.82 504.30L713.32 503.42L713.82 502.53L714.32 501.63L714.82 500.72L715.32 499.81L715.82 498.90L716.32 497.99L716.82 497.08L717.33 496.19L717.83 495.32L718.33 494.44L718.83 493.54L719.33 492.59L719.83 491.59L720.33 490.58L720.83 489.54L721.33 488.48L721.83 487.40L722.34 486.30L722.84 485.18L723.34 484.04L723.84 482.89L724.34 481.71L724.84 480.52L725.34 479.31L725.84 478.07L726.34 476.82L726.84 475.55L727.34 474.26L727.85 472.96L728.35 471.65L728.85 470.31L729.35 468.96L729.85 467.60L730.35 466.21L730.85 464.81L731.35 463.40L731.85 461.96L732.35 460.51L732.85 459.03L733.36 457.52L733.86 455.99L734.36 454.44L734.86 452.86L735.36 451.27L735.86 449.65L736.36 448.02L736.86 446.37L737.36 444.70L737.86 443.02L738.36 441.33L738.87 439.64L739.37 437.93L739.87 436.22L740.37 434.51L740.87 432.79L741.37 431.08L741.87 429.37L742.37 427.67L742.87 425.96L743.37 424.26L743.87 422.56L744.38 420.87L744.88 419.17L745.38 417.46L745.88 415.76L746.38 414.05L746.88 412.33L747.38 410.60L747.88 408.86L748.38 407.12L748.88 405.36L749.38 403.59L749.89 401.80L750.39 399.99L750.89 398.17L751.39 396.33L751.89 394.47L752.39 392.59L752.89 390.68L753.39 388.75L753.89 386.77L754.39 384.76L754.89 382.69L755.40 380.57L755.90 378.39L756.40 376.14L756.90 373.82L757.40 371.42L757.90 368.95L758.40 366.43L758.90 363.88L759.40 361.29L759.90 358.70L760.41 356.11L760.91 353.51L761.41 350.92L761.91 348.33L762.41 345.74L762.91 343.15L763.41 340.56L763.91 337.97L764.41 335.39L764.91 332.81L765.41 330.23L765.92 327.65L766.42 325.08L766.92 322.51L767.42 319.94L767.92 317.38L768.42 314.83L768.92 312.28L769.42 309.73L769.92 307.18L770.42 304.64L770.92 302.09L771.43 299.55L771.93 297.00L772.43 294.45L772.93 291.90L773.43 289.34L773.93 286.77L774.43 284.19L774.93 281.61L775.43 279.02L775.93 276.41L776.43 273.80L776.94 271.17L777.44 268.52L777.94 265.86L778.44 263.18L778.94 260.49L779.44 257.77L779.94 255.04L780.44 252.29L780.94 249.51L781.44 246.71L781.94 243.88L782.45 241.03L782.95 238.15L783.45 235.25L783.95 232.31L784.45 229.34L784.95 226.35L785.45 223.32L785.95 220.27L786.45 217.19L786.95 214.09L787.45 210.96L787.96 207.81L788.46 204.64L788.96 201.46L789.46 198.26L789.96 195.04L790.46 191.81L790.96 188.57L791.46 185.33L791.96 182.07L792.46 178.81L792.96 175.54L793.47 172.27L793.97 169.00L794.47 165.73L794.97 162.46L795.47 159.19L795.97 155.94L796.47 152.69L796.97 149.46L797.47 146.24L797.97 143.05L798.48 139.87L798.98 136.72L799.48 133.60L799.98 130.51L800.48 127.45L800.98 124.42L801.48 121.44L801.98 118.50L802.48 115.60L802.98 112.74L803.48 109.94L803.99 107.19L804.49 104.50L804.99 101.87L805.49 99.29L805.99 96.78L806.49 94.34L806.99 91.97L807.49 89.67L807.99 87.44L808.49 85.30L808.99 83.23L809.50 81.25L810.00 79.36L810.50 77.55L811.00 75.84L811.50 74.22L812.00 72.70L812.50 71.49L813.00 70.28L813.50 69.06L814.00 67.85L814.50 66.64L815.00 65.42L815.50 64.21L816.00 63.00L816.50 62.77L817.00 62.55L817.50 62.33L818.00 62.10L818.50 61.88L819.00 61.65L819.50 61.43L820.00 61.20L820.48 61.61L820.96 62.02L821.43 62.43L821.91 62.84L822.39 63.26L822.87 63.67L823.34 64.08L823.82 64.49L824.30 64.90L824.80 66.00L825.30 67.16L825.80 68.39L826.30 69.72L826.79 71.16L827.29 72.73L827.79 74.42L828.29 76.21L828.79 78.11L829.29 80.12L829.79 82.24L830.29 84.46L830.78 86.80L831.28 89.25L831.78 91.81L832.28 94.48L832.78 97.26L833.28 100.15L833.78 103.15L834.28 106.26L834.78 109.49L835.27 112.81L835.77 116.23L836.27 119.73L836.77 123.30L837.27 126.93L837.77 130.62L838.27 134.35L838.77 138.11L839.27 141.90L839.76 145.71L840.26 149.52L840.76 153.32L841.26 157.13L841.76 160.96L842.26 164.79L842.76 168.65L843.26 172.53L843.75 176.44L844.25 180.40L844.75 184.38L845.25 188.41L845.75 192.47L846.25 196.57L846.75 200.70L847.25 204.86L847.75 209.06L848.24 213.29L848.74 217.56L849.24 221.86L849.74 226.18L850.24 230.54L850.74 234.93L851.24 239.35L851.74 243.80L852.23 248.27L852.73 252.78L853.23 257.31L853.73 261.86L854.23 266.45L854.73 271.06L855.23 275.69L855.73 280.35L856.23 285.02L856.72 289.71L857.22 294.42L857.72 299.13L858.22 303.85L858.72 308.57L859.22 313.29L859.72 318.01L860.22 322.72L860.72 327.42L861.21 332.10L861.71 336.77L862.21 341.41L862.71 346.03L863.21 350.63L863.71 355.19L864.21 359.72L864.71 364.21L865.20 368.67L865.70 373.07L866.20 377.43L866.70 381.74L867.20 386.00"/>
<rect x="525" y="37.3" width="4" height="536.9" fill="#000"/>
</g>
<g fill="#000" shape-rendering="crispEdges">
<rect x="190" y="37" width="675" height="1"/>
<rect x="190" y="574" width="675" height="1"/>
<rect x="190" y="37" width="1" height="538"/>
<rect x="864" y="37" width="1" height="538"/>
<rect x="257" y="575" width="1" height="5"/>
<rect x="392" y="575" width="1" height="5"/>
<rect x="527" y="575" width="1" height="5"/>
<rect x="662" y="575" width="1" height="5"/>
<rect x="796" y="575" width="1" height="5"/>
<rect x="185" y="549" width="5" height="1"/>
<rect x="185" y="475" width="5" height="1"/>
<rect x="185" y="401" width="5" height="1"/>
<rect x="185" y="327" width="5" height="1"/>
<rect x="185" y="254" width="5" height="1"/>
<rect x="185" y="180" width="5" height="1"/>
<rect x="185" y="106" width="5" height="1"/>
</g>
<text class="tk" x="257.1" y="611.1" text-anchor="middle">−0.4</text>
<text class="tk" x="391.85" y="611.1" text-anchor="middle">−0.2</text>
<text class="tk" x="526.6" y="611.1" text-anchor="middle">0.0</text>
<text class="tk" x="661.35" y="611.1" text-anchor="middle">0.2</text>
<text class="tk" x="796.1" y="611.1" text-anchor="middle">0.4</text>
<text class="tk" x="179.55" y="562.6" text-anchor="end">0.000</text>
<text class="tk" x="179.55" y="488.78" text-anchor="end">0.025</text>
<text class="tk" x="179.55" y="414.96" text-anchor="end">0.050</text>
<text class="tk" x="179.55" y="341.15" text-anchor="end">0.075</text>
<text class="tk" x="179.55" y="267.33" text-anchor="end">0.100</text>
<text class="tk" x="179.55" y="193.51" text-anchor="end">0.125</text>
<text class="tk" x="179.55" y="119.7" text-anchor="end">0.150</text>
<text class="lab" y="657.7"><tspan x="439.4">E</tspan><tspan x="465.7">-</tspan><tspan x="480.72">E</tspan><tspan class="fsub" x="507.42" dy="6.9">f</tspan><tspan x="518.83" dy="-6.9"> </tspan><tspan x="532.06">(</tspan><tspan x="548.3">e</tspan><tspan x="573.91">V</tspan><tspan x="602.38">)</tspan></text>
<text class="lab" transform="translate(66.5 307.2) rotate(-90)" text-anchor="middle">ZT</text>
<rect x="205.4" y="52.5" width="164.4" height="148" rx="5.5" ry="5.5" fill="#ffffff" fill-opacity="0.8" stroke="#cccccc" stroke-opacity="0.8" stroke-width="1.39"/>
<rect x="214.9" y="75" width="65.05" height="4" fill="#1f77b4"/>
<text class="leg" y="87.4"><tspan x="303.6">Z</tspan><tspan x="324.49">T</tspan><tspan class="sub" x="343.42" dy="5.1">1</tspan></text>
<rect x="214.9" y="122" width="65.05" height="4" fill="#ff7f0e"/>
<text class="leg" y="133.8"><tspan x="303.6">Z</tspan><tspan x="324.49">T</tspan><tspan class="sub" x="343.42" dy="5.1">2</tspan></text>
<rect x="214.9" y="168" width="65.05" height="4" fill="#2ca02c"/>
<text class="leg" y="180.2"><tspan x="303.6">Z</tspan><tspan x="324.49">T</tspan><tspan class="sub" x="343.42" dy="5.1">3</tspan></text>
</svg>
</body>
</html>
